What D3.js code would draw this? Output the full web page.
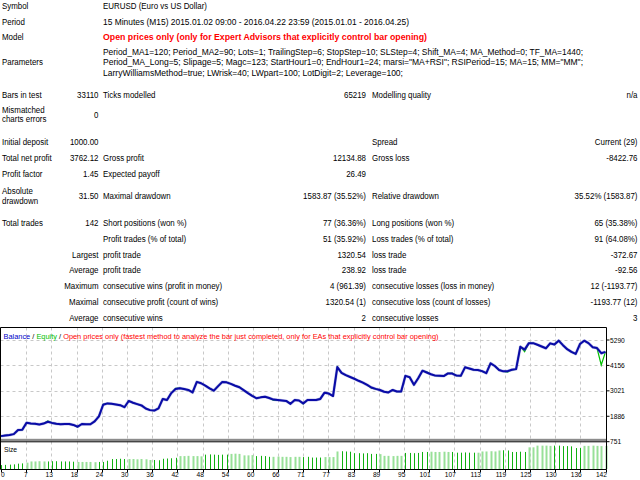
<!DOCTYPE html>
<html><head><meta charset="utf-8">
<script src="https://cdn.jsdelivr.net/npm/d3@7"></script>
<style>html,body{margin:0;padding:0;background:#fff;} svg{display:block;}</style>
</head><body>
<svg id="c" width="640" height="480"></svg>
<script>
// ---------- data ----------
const balance = [1000,1030,1050,1090,1270,1280,1600,1560,1550,1520,1560,1640,1590,1550,1535,1540,1545,1500,1420,1540,
1530,1530,1660,1880,2400,2460,2440,2410,2380,2290,2570,2490,2430,2370,2230,2160,2140,2240,2660,2610,
2920,3100,3140,3100,3060,2950,3420,3360,3250,3130,3030,3230,3420,3400,3330,3250,3180,3050,2920,2800,
2690,2730,2760,2700,2630,2610,2590,2570,2440,2610,2590,2460,2610,2610,2615,2660,2940,2900,2790,4080,
3820,3720,3640,3560,3470,3390,3290,3170,3110,3060,2980,2950,3060,2990,2990,3690,3630,3290,3580,3920,
3840,3760,3700,3690,3680,3800,3790,3700,3690,4070,4020,3960,3950,3900,3810,4250,4130,3950,3890,3900,
3960,3990,4990,4860,5150,5150,5080,5000,4920,5140,5090,5260,5060,4880,4760,4670,5110,5260,5150,4965,
4930,4700,4762];
const equity = [1000,1030,1050,1090,1270,1280,1600,1560,1550,1520,1560,1680,1590,1550,1535,1540,1545,1500,1400,1540,
1530,1530,1660,1880,2420,2460,2440,2410,2380,2290,2570,2490,2430,2370,2230,2160,2140,2240,2660,2610,
2920,3130,3140,3100,3060,2950,3420,3360,3250,3130,3030,3230,3420,3400,3330,3250,3200,3050,2920,2800,
2690,2730,2760,2700,2600,2610,2590,2570,2440,2610,2590,2440,2610,2610,2615,2660,2940,2900,2790,4080,
3820,3720,3640,3560,3470,3390,3290,3140,3110,3060,2980,2950,3060,2990,2990,3690,3630,3290,3580,3920,
3870,3760,3700,3690,3680,3800,3810,3700,3690,4070,4020,3960,3950,3900,3810,4250,4130,3950,3890,3860,
3960,3990,4990,4770,5150,5150,5080,5000,4920,5140,5090,5260,5060,4880,4760,4670,5110,5260,5150,4965,
4930,4174,4762];
const sizes = [0.16,0.17,0.18,0.19,0.22,0.23,0.26,0.31,0.31,0.32,0.31,0.31,0.32,0.32,0.31,0.31,0.31,0.30,0.29,0.29,
0.29,0.29,0.28,0.29,0.29,0.34,0.41,0.41,0.42,0.41,0.41,0.41,0.40,0.41,0.40,0.37,0.37,0.36,0.42,0.43,
0.44,0.46,0.53,0.53,0.54,0.53,0.53,0.52,0.59,0.60,0.59,0.58,0.59,0.59,0.62,0.63,0.62,0.56,0.56,0.57,
0.53,0.54,0.53,0.50,0.50,0.51,0.50,0.50,0.49,0.50,0.50,0.49,0.50,0.47,0.47,0.47,0.49,0.49,0.49,0.72,
0.73,0.72,0.71,0.65,0.65,0.64,0.65,0.62,0.62,0.61,0.54,0.54,0.53,0.54,0.54,0.66,0.66,0.65,0.66,0.70,
0.70,0.71,0.70,0.70,0.71,0.70,0.70,0.67,0.67,0.68,0.67,0.67,0.67,0.72,0.72,0.73,0.72,0.76,0.77,0.76,
0.70,0.70,0.71,0.70,0.89,0.89,0.96,0.96,0.96,0.95,0.96,0.96,0.94,0.94,0.93,0.86,0.86,0.95,0.95,0.96,
0.95,0.94,0.95];
const sizeShade = [0,0,0,0,0,0,1,1,1,1,1,0,0,0,0,0,0,0,1,1,1,1,1,0,0,0,0,0,0,0,1,1,1,1,1,1,0,0,0,0,
0,0,1,1,1,1,1,1,0,0,0,0,0,0,1,1,1,1,1,1,0,0,0,0,1,1,1,1,1,1,1,0,0,0,0,0,1,1,1,1,
0,0,0,0,0,0,0,0,0,1,1,1,1,1,1,0,0,0,0,0,0,1,1,1,1,1,0,0,0,0,0,0,1,1,1,1,1,1,0,0,
0,0,0,0,1,1,1,1,1,1,0,0,0,0,0,0,0,1,1,1,1,1,1];
const xTickLabels = [0,7,13,18,24,30,36,42,48,54,60,66,71,77,83,89,95,101,107,113,119,125,130,136,142];
const yTickValues = [751,1886,3021,4156,5290];

const headRows = [
  ["Symbol", "EURUSD (Euro vs US Dollar)"],
  ["Period", "15 Minutes (M15) 2015.01.02 09:00 - 2016.04.22 23:59 (2015.01.01 - 2016.04.25)"],
  ["Model", "Open prices only (only for Expert Advisors that explicitly control bar opening)"]
];
const paramLines = [
  "Period_MA1=120; Period_MA2=90; Lots=1; TrailingStep=6; StopStep=10; SLStep=4; Shift_MA=4; MA_Method=0; TF_MA=1440;",
  "Period_MA_Long=5; Slipage=5; Magc=123; StartHour1=0; EndHour1=24; marsi=\"MA+RSI\"; RSIPeriod=15; MA=15; MM=\"MM\";",
  "LarryWilliamsMethod=true; LWrisk=40; LWpart=100; LotDigit=2; Leverage=100;"
];
// [label1, value1, label2, value2, label3, value3]
const statRows = [
  [["Bars in test"], "33110", "Ticks modelled", "65219", "Modelling quality", "n/a"],
  [["Mismatched","charts errors"], "0", "", "", "", ""],
  [["Initial deposit"], "1000.00", "", "", "Spread", "Current (29)"],
  [["Total net profit"], "3762.12", "Gross profit", "12134.88", "Gross loss", "-8422.76"],
  [["Profit factor"], "1.45", "Expected payoff", "26.49", "", ""],
  [["Absolute","drawdown"], "31.50", "Maximal drawdown", "1583.87 (35.52%)", "Relative drawdown", "35.52% (1583.87)"],
  [["Total trades"], "142", "Short positions (won %)", "77 (36.36%)", "Long positions (won %)", "65 (35.38%)"],
  [[""], "", "Profit trades (% of total)", "51 (35.92%)", "Loss trades (% of total)", "91 (64.08%)"],
  [["Largest"], "", "profit trade", "1320.54", "loss trade", "-372.67"],
  [["Average"], "", "profit trade", "238.92", "loss trade", "-92.56"],
  [["Maximum"], "", "consecutive wins (profit in money)", "4 (961.39)", "consecutive losses (loss in money)", "12 (-1193.77)"],
  [["Maximal"], "", "consecutive profit (count of wins)", "1320.54 (1)", "consecutive loss (count of losses)", "-1193.77 (12)"],
  [["Average"], "", "consecutive wins", "2", "consecutive losses", "3"]
];
const statRowY = [95, 114.5, 141.7, 158.3, 174.3, 195.7, 223.3, 239, 254.5, 270, 286, 302, 317.5];

// ---------- drawing ----------
const svg = d3.select("#c");
const FONT = "'Liberation Sans', Arial, sans-serif";
function T(g, x, y, s, o = {}) {
  const t = g.append("text")
    .attr("transform", `translate(${x},${y})` + (o.len ? "" : ` scale(${o.sx || 0.88},1)`))
    .attr("font-family", FONT).attr("font-size", o.fs || 9)
    .attr("dominant-baseline", "central")
    .attr("text-anchor", o.anchor || "start")
    .attr("fill", o.fill || "#000").text(s);
  if (o.bold) t.attr("font-weight", "bold");
  if (o.len) t.attr("textLength", o.len).attr("lengthAdjust", "spacingAndGlyphs");
  return t;
}
const rep = svg.append("g");
const C1L = 2, C1R = 98.5, C2L = 103, C2R = 366, C3L = 372, C3R = 637.5;

T(rep, C1L, 6, headRows[0][0]); T(rep, C2L, 6, headRows[0][1], {len: 104});
T(rep, C1L, 21.7, headRows[1][0]); T(rep, C2L, 21.7, headRows[1][1], {len: 306});
T(rep, C1L, 36.7, headRows[2][0]); T(rep, C2L, 36.7, headRows[2][1], {len: 324, bold: true, fill: "#ff0000"});
T(rep, C1L, 62.3, "Parameters");
const pLens = [480, 480, 300], pY = [51.7, 62.3, 72.7];
paramLines.forEach((s, i) => T(rep, C2L, pY[i], s, {len: pLens[i]}));

statRows.forEach((r, i) => {
  const yy = statRowY[i];
  const lab = r[0];
  const isRightLabel = ["Largest","Average","Maximum","Maximal"].includes(lab[0]);
  if (lab.length === 2) {
    T(rep, C1L, yy - 4.7, lab[0]); T(rep, C1L, yy + 4.7, lab[1]);
  } else if (isRightLabel) {
    T(rep, C1R, yy, lab[0], {anchor: "end"});
  } else if (lab[0]) {
    T(rep, C1L, yy, lab[0]);
  }
  if (r[1]) T(rep, C1R, yy, r[1], {anchor: "end"});
  if (r[2]) T(rep, C2L, yy, r[2]);
  if (r[3]) T(rep, C2R, yy, r[3], {anchor: "end"});
  if (r[4]) T(rep, C3L, yy, r[4]);
  if (r[5]) T(rep, C3R, yy, r[5], {anchor: "end"});
});

// ---------- chart ----------
const PL = 0.5, PR = 606.5, PT = 327.5, SEP = 441, SB = 469.5;
const x = d3.scaleLinear().domain([0, 142]).range([1, 605.5]);
const y = d3.scaleLinear().domain([751, 5290]).range([441.7, 340]);
const ys = d3.scaleLinear().domain([0, 1.15]).range([469, 441]);
const ch = svg.append("g");
const gridK = d3.range(1, xTickLabels.length - 1);
const gridX = k => x(k * 142 / (xTickLabels.length - 1));

// grid
ch.selectAll(".vg").data(gridK).join("line")
  .attr("x1", k => Math.round(gridX(k)) + 0.5).attr("x2", k => Math.round(gridX(k)) + 0.5)
  .attr("y1", PT).attr("y2", SB)
  .attr("stroke", "#c8c8c8").attr("stroke-dasharray", "3,3");
ch.selectAll(".hg").data(yTickValues.slice(1)).join("line")
  .attr("x1", PL).attr("x2", PR)
  .attr("y1", d => Math.round(y(d)) + 0.5).attr("y2", d => Math.round(y(d)) + 0.5)
  .attr("stroke", "#c8c8c8").attr("stroke-dasharray", "3,3");

// size bars
ch.selectAll(".bar").data(sizes).join("line")
  .attr("x1", (d, i) => Math.round(x(i)) + 0.5).attr("x2", (d, i) => Math.round(x(i)) + 0.5)
  .attr("y1", ys(0)).attr("y2", d => ys(d))
  .attr("stroke", (d, i) => sizeShade[i] ? "#98e098" : "#10b010")
  .attr("stroke-width", (d, i) => sizeShade[i] ? 2 : 1);

// equity & balance
const line = d3.line().x((d, i) => x(i)).y(d => y(d));
ch.append("path").datum(equity).attr("d", line)
  .attr("fill", "none").attr("stroke", "#00c000").attr("stroke-width", 1.2);
ch.append("path").datum(balance).attr("d", line)
  .attr("fill", "none").attr("stroke", "#8080d8").attr("stroke-width", 3).attr("stroke-opacity", 0.5)
  .attr("stroke-linejoin", "round");
ch.append("path").datum(balance).attr("d", line)
  .attr("fill", "none").attr("stroke", "#0a0aa8").attr("stroke-width", 2)
  .attr("stroke-linejoin", "round");

// frames
ch.append("rect").attr("x", 1).attr("y", 438.8).attr("width", 605.5).attr("height", 2.4).attr("fill", "#8c8c8c");
const frame = [[PL, PT, PR, PT], [PL, PT, PL, SB], [PR, PT, PR, SB], [PL, 441.8, PR, 441.8], [PL, SB, PR, SB]];
ch.selectAll(".fr").data(frame).join("line")
  .attr("x1", d => d[0]).attr("y1", d => d[1]).attr("x2", d => d[2]).attr("y2", d => d[3])
  .attr("stroke", "#000").attr("stroke-width", 1);

// y axis labels
yTickValues.forEach(v => {
  ch.append("line").attr("x1", PR).attr("x2", PR + 3).attr("y1", y(v)).attr("y2", y(v)).attr("stroke", "#000");
  T(ch, 610, y(v), String(v), {fs: 7, sx: 0.95});
});
// x axis labels + ticks
xTickLabels.forEach((lab, k) => {
  const gx = k === 0 ? x(0) : gridX(k);
  ch.append("line").attr("x1", Math.round(gx) + 0.5).attr("x2", Math.round(gx) + 0.5)
    .attr("y1", SB).attr("y2", SB + 3).attr("stroke", "#000");
  if (k === 0) T(ch, 1, 474.5, String(lab), {fs: 7, sx: 0.95});
  else T(ch, gx + 1.5, 474.5, String(lab), {fs: 7, sx: 0.95, anchor: "end"});
});
T(ch, 4, 449.5, "Size", {fs: 7.5, sx: 0.9});

// chart title
const tt = ch.append("text").attr("x", 3.5).attr("y", 335.5)
  .attr("font-family", FONT).attr("font-size", 7.8).attr("dominant-baseline", "central")
  .attr("textLength", 435).attr("lengthAdjust", "spacingAndGlyphs");
[["Balance", "#0000c8"], [" / ", "#000"], ["Equity", "#00c000"], [" / ", "#000"],
 ["Open prices only (fastest method to analyze the bar just completed, only for EAs that explicitly control bar opening)", "#ff0000"]]
  .forEach(p => tt.append("tspan").attr("fill", p[1]).text(p[0]));
</script>
</body></html>
